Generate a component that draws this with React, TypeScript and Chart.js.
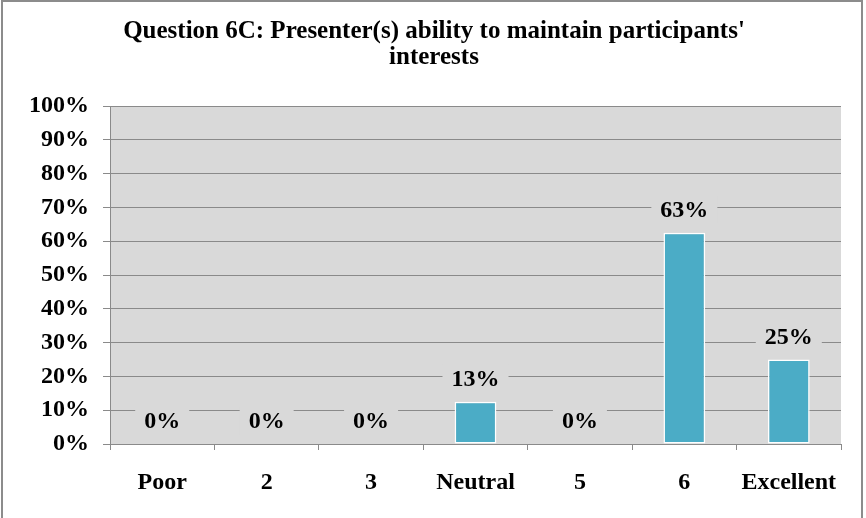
import React, { useEffect, useRef } from "react";
import { Chart, registerables } from "chart.js";

Chart.register(...registerables);

const TITLE_LINES = ["Question 6C: Presenter(s) ability to maintain participants'", "interests"];
const CATEGORIES = ["Poor", "2", "3", "Neutral", "5", "6", "Excellent"];
const VALUES = [0, 0, 0, 12.5, 0, 62.5, 25];
const Y_TICK_STEP = 10;

const FONT_FAMILY = '"Liberation Serif", "Times New Roman", serif';
const PLOT_BG = "#d9d9d9";
const GRID = "#8a8a8a";
const BAR = "#4bacc6";

const bgPlugin = {
  id: "plotBg",
  beforeDraw(chart: any) {
    const { ctx, chartArea: a } = chart;
    ctx.save();
    ctx.fillStyle = "#ffffff";
    ctx.fillRect(0, 0, chart.width, chart.height);
    ctx.fillStyle = PLOT_BG;
    ctx.fillRect(a.left, a.top, a.right - a.left, a.bottom - a.top);
    ctx.restore();
  },
  afterDraw(chart: any) {
    const { ctx } = chart;
    ctx.save();
    ctx.fillStyle = "#000";
    ctx.font = `bold 25px ${FONT_FAMILY}`;
    ctx.textAlign = "center";
    ctx.textBaseline = "alphabetic";
    ctx.fillText(TITLE_LINES[0], 434, 38);
    ctx.fillText(TITLE_LINES[1], 434, 64);
    ctx.strokeStyle = "#8c8c8c";
    ctx.lineWidth = 2;
    ctx.beginPath();
    ctx.moveTo(2, 530);
    ctx.lineTo(2, 1);
    ctx.lineTo(862, 1);
    ctx.lineTo(862, 530);
    ctx.stroke();
    ctx.restore();
  },
};

const labelPlugin = {
  id: "barLabels",
  afterDatasetsDraw(chart: any) {
    const { ctx } = chart;
    const meta = chart.getDatasetMeta(0);
    ctx.save();
    ctx.font = `bold 24px ${FONT_FAMILY}`;
    ctx.textAlign = "center";
    ctx.textBaseline = "middle";
    meta.data.forEach((el: any, i: number) => {
      const text = Math.round(VALUES[i]) + "%";
      const cy = el.y - 23;
      const w = ctx.measureText(text).width + 18;
      const h = 28;
      ctx.fillStyle = PLOT_BG;
      ctx.fillRect(el.x - w / 2, cy - h / 2, w, h);
      ctx.fillStyle = "#000";
      ctx.fillText(text, el.x, cy + 1);
    });
    ctx.restore();
  },
};

export default function App() {
  const ref = useRef<HTMLCanvasElement>(null);
  useEffect(() => {
    document.body.style.margin = "0";
    const chart = new Chart(ref.current as HTMLCanvasElement, {
      type: "bar",
      data: {
        labels: CATEGORIES,
        datasets: [
          {
            data: VALUES,
            backgroundColor: BAR,
            borderColor: "#ffffff",
            borderWidth: 1.5,
            borderSkipped: false,
            categoryPercentage: 1,
            barPercentage: 0.4,
          },
        ],
      },
      options: {
        responsive: false,
        animation: false,
        layout: { padding: { top: 106, left: 0, right: 25, bottom: 0 } },
        plugins: { legend: { display: false }, tooltip: { enabled: false }, title: { display: false } },
        scales: {
          x: {
            offset: true,
            grid: { offset: true, drawOnChartArea: false, drawTicks: true, tickLength: 6, color: GRID },
            border: { color: GRID },
            ticks: { color: "#000", font: { family: FONT_FAMILY, size: 24, weight: "bold" }, padding: 18 },
            afterFit: (s: any) => {
              s.height = 74;
            },
          },
          y: {
            min: 0,
            max: 100,
            grid: { color: GRID, tickLength: 7 },
            border: { color: GRID },
            ticks: {
              stepSize: Y_TICK_STEP,
              color: "#000",
              font: { family: FONT_FAMILY, size: 24, weight: "bold" },
              padding: 14,
              callback: (v: any) => v + "%",
            },
            afterFit: (s: any) => {
              s.width = 110;
            },
          },
        },
      },
      plugins: [bgPlugin, labelPlugin],
    });
    return () => chart.destroy();
  }, []);
  return (
    <div style={{ position: "fixed", left: 0, top: 0, width: 866, height: 518 }}>
      <canvas ref={ref} width={866} height={518} />
    </div>
  );
}
